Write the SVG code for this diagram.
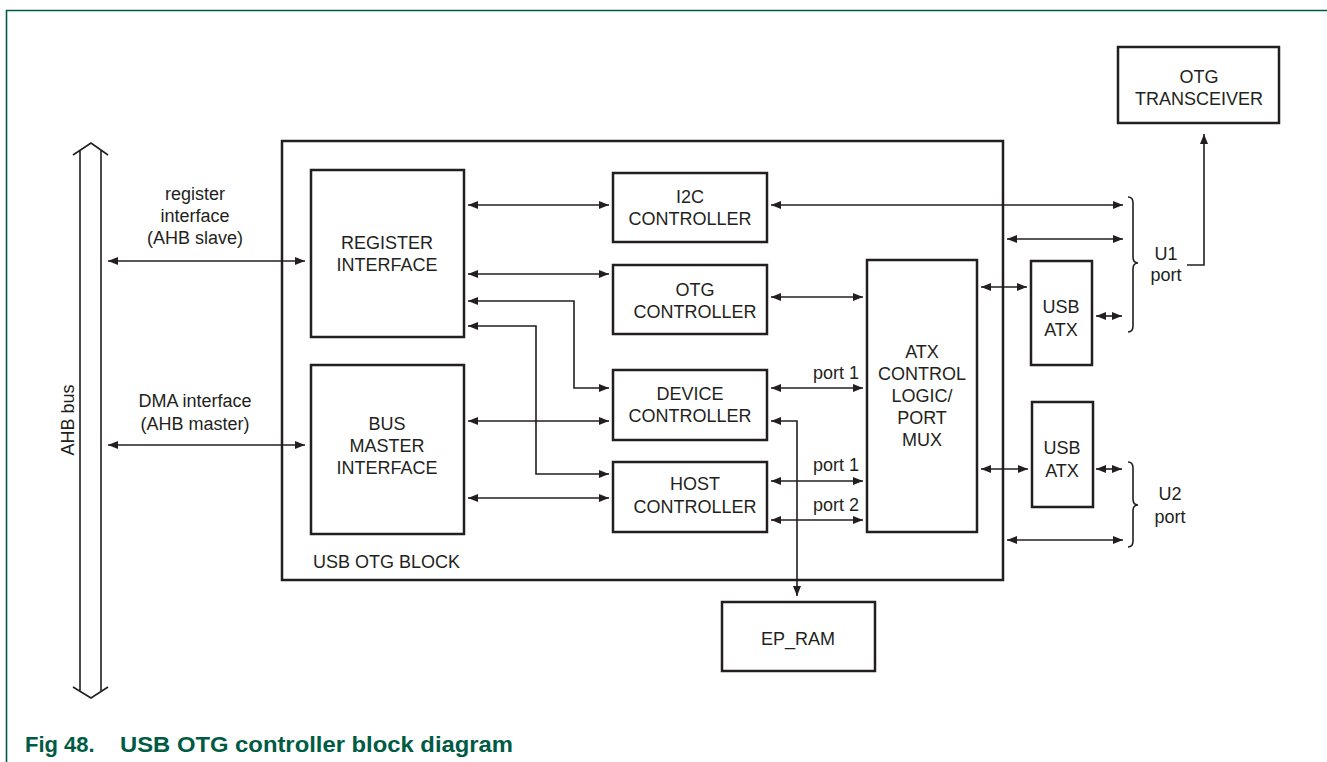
<svg xmlns="http://www.w3.org/2000/svg" width="1327" height="762" viewBox="0 0 1327 762">
<style>
.box{fill:#fff;stroke:#231f20;stroke-width:2.5}
.t{font-family:"Liberation Sans",Arial,sans-serif;font-size:18px;fill:#231f20;text-anchor:middle}
.tl{font-family:"Liberation Sans",Arial,sans-serif;font-size:18px;fill:#231f20}
.c{fill:none;stroke:#231f20;stroke-width:1.6}
.cap{font-family:"Liberation Sans",Arial,sans-serif;font-size:22px;font-weight:bold;fill:#005b45}
</style>
<defs>
<marker id="ah" markerUnits="userSpaceOnUse" markerWidth="10" markerHeight="8" refX="10" refY="4" orient="auto-start-reverse" viewBox="0 0 10 8">
<path d="M0,0 L10,4 L0,8 z" fill="#231f20"/>
</marker>
</defs>
<rect width="1327" height="762" fill="#fff"/>
<path d="M6.5,762 V10.5 H1327" fill="none" stroke="#005b45" stroke-width="1.6"/>

<g id="ahb-bus">
<path d="M73,155 L91,143 L108,155 M80,150 V692 M101,150 V692 M73,687 L91,698 L108,687" fill="none" stroke="#231f20" stroke-width="1.6"/>
<text class="t" transform="translate(74,420) rotate(-90)">AHB bus</text>
</g>

<g id="usb-otg-block">
<rect class="box" x="282" y="141" width="721" height="439" stroke-width="3"/>
<text class="tl" x="313" y="568">USB OTG BLOCK</text>
</g>

<g id="connectors">
<path class="c" d="M108,261 H305" marker-start="url(#ah)" marker-end="url(#ah)"/>
<path class="c" d="M108,445 H305" marker-start="url(#ah)" marker-end="url(#ah)"/>
<path class="c" d="M468,205 H609" marker-start="url(#ah)" marker-end="url(#ah)"/>
<path class="c" d="M468,274 H609" marker-start="url(#ah)" marker-end="url(#ah)"/>
<path class="c" d="M468,301 H574 V388 H609" marker-start="url(#ah)" marker-end="url(#ah)"/>
<path class="c" d="M468,326 H536 V474 H609" marker-start="url(#ah)" marker-end="url(#ah)"/>
<path class="c" d="M468,421 H609" marker-start="url(#ah)" marker-end="url(#ah)"/>
<path class="c" d="M468,498 H609" marker-start="url(#ah)" marker-end="url(#ah)"/>
<path class="c" d="M771,205 H1123" marker-start="url(#ah)" marker-end="url(#ah)"/>
<path class="c" d="M1007,239 H1123" marker-start="url(#ah)" marker-end="url(#ah)"/>
<path class="c" d="M771,297 H863" marker-start="url(#ah)" marker-end="url(#ah)"/>
<path class="c" d="M771,388 H863" marker-start="url(#ah)" marker-end="url(#ah)"/>
<path class="c" d="M771,421 H797 V596" marker-start="url(#ah)" marker-end="url(#ah)"/>
<path class="c" d="M771,481 H863" marker-start="url(#ah)" marker-end="url(#ah)"/>
<path class="c" d="M771,520 H863" marker-start="url(#ah)" marker-end="url(#ah)"/>
<path class="c" d="M981,287 H1027" marker-start="url(#ah)" marker-end="url(#ah)"/>
<path class="c" d="M1096,316 H1122" marker-start="url(#ah)" marker-end="url(#ah)"/>
<path class="c" d="M981,469 H1028" marker-start="url(#ah)" marker-end="url(#ah)"/>
<path class="c" d="M1096,469 H1122" marker-start="url(#ah)" marker-end="url(#ah)"/>
<path class="c" d="M1007,540 H1123" marker-start="url(#ah)" marker-end="url(#ah)"/>
<path class="c" d="M1187,265 H1204 V134" marker-end="url(#ah)"/>
<path class="c" d="M1128,197 Q1133,197 1133,203 L1133,257 Q1133,263 1138,263 Q1133,263 1133,269 L1133,326 Q1133,332 1128,332"/>
<path class="c" d="M1128,462 Q1133,462 1133,468 L1133,499 Q1133,505 1138,505 Q1133,505 1133,511 L1133,541 Q1133,547 1128,547"/>
<text class="t" x="195" y="200">register</text>
<text class="t" x="195" y="222">interface</text>
<text class="t" x="195" y="244">(AHB slave)</text>
<text class="t" x="195" y="407">DMA interface</text>
<text class="t" x="195" y="430">(AHB master)</text>
<text class="t" x="836" y="379">port 1</text>
<text class="t" x="836" y="471">port 1</text>
<text class="t" x="836" y="511">port 2</text>
<text class="t" x="1166" y="260">U1</text>
<text class="t" x="1166" y="281">port</text>
<text class="t" x="1170" y="500">U2</text>
<text class="t" x="1170" y="523">port</text>
</g>

<g id="register-interface">
<rect class="box" x="311" y="170" width="153" height="167"/>
<text class="t" x="387" y="249">REGISTER</text>
<text class="t" x="387" y="271">INTERFACE</text>
</g>
<g id="bus-master-interface">
<rect class="box" x="311" y="365" width="153" height="169"/>
<text class="t" x="387" y="430">BUS</text>
<text class="t" x="387" y="452">MASTER</text>
<text class="t" x="387" y="474">INTERFACE</text>
</g>
<g id="i2c-controller">
<rect class="box" x="613" y="173" width="154" height="69"/>
<text class="t" x="690" y="203">I2C</text>
<text class="t" x="690" y="225">CONTROLLER</text>
</g>
<g id="otg-controller">
<rect class="box" x="613" y="265" width="154" height="69"/>
<text class="t" x="695" y="296">OTG</text>
<text class="t" x="695" y="318">CONTROLLER</text>
</g>
<g id="device-controller">
<rect class="box" x="613" y="370" width="154" height="70"/>
<text class="t" x="690" y="400">DEVICE</text>
<text class="t" x="690" y="422">CONTROLLER</text>
</g>
<g id="host-controller">
<rect class="box" x="613" y="462" width="154" height="70"/>
<text class="t" x="695" y="490">HOST</text>
<text class="t" x="695" y="513">CONTROLLER</text>
</g>
<g id="atx-control">
<rect class="box" x="867" y="260" width="110" height="272"/>
<text class="t" x="922" y="358">ATX</text>
<text class="t" x="922" y="380">CONTROL</text>
<text class="t" x="922" y="402">LOGIC/</text>
<text class="t" x="922" y="424">PORT</text>
<text class="t" x="922" y="446">MUX</text>
</g>
<g id="usb-atx-1">
<rect class="box" x="1031" y="261" width="61" height="104"/>
<text class="t" x="1061" y="313">USB</text>
<text class="t" x="1061" y="336">ATX</text>
</g>
<g id="usb-atx-2">
<rect class="box" x="1032" y="402" width="61" height="105"/>
<text class="t" x="1062" y="454">USB</text>
<text class="t" x="1062" y="477">ATX</text>
</g>
<g id="otg-transceiver">
<rect class="box" x="1118" y="47" width="161" height="76"/>
<text class="t" x="1199" y="83">OTG</text>
<text class="t" x="1199" y="105">TRANSCEIVER</text>
</g>
<g id="ep-ram">
<rect class="box" x="722" y="602" width="153" height="69"/>
<text class="t" x="798" y="645">EP_RAM</text>
</g>

<g id="caption">
<text class="cap" x="25" y="752">Fig 48.</text>
<text class="cap" x="120" y="752" textLength="393" lengthAdjust="spacingAndGlyphs">USB OTG controller block diagram</text>
</g>
</svg>
